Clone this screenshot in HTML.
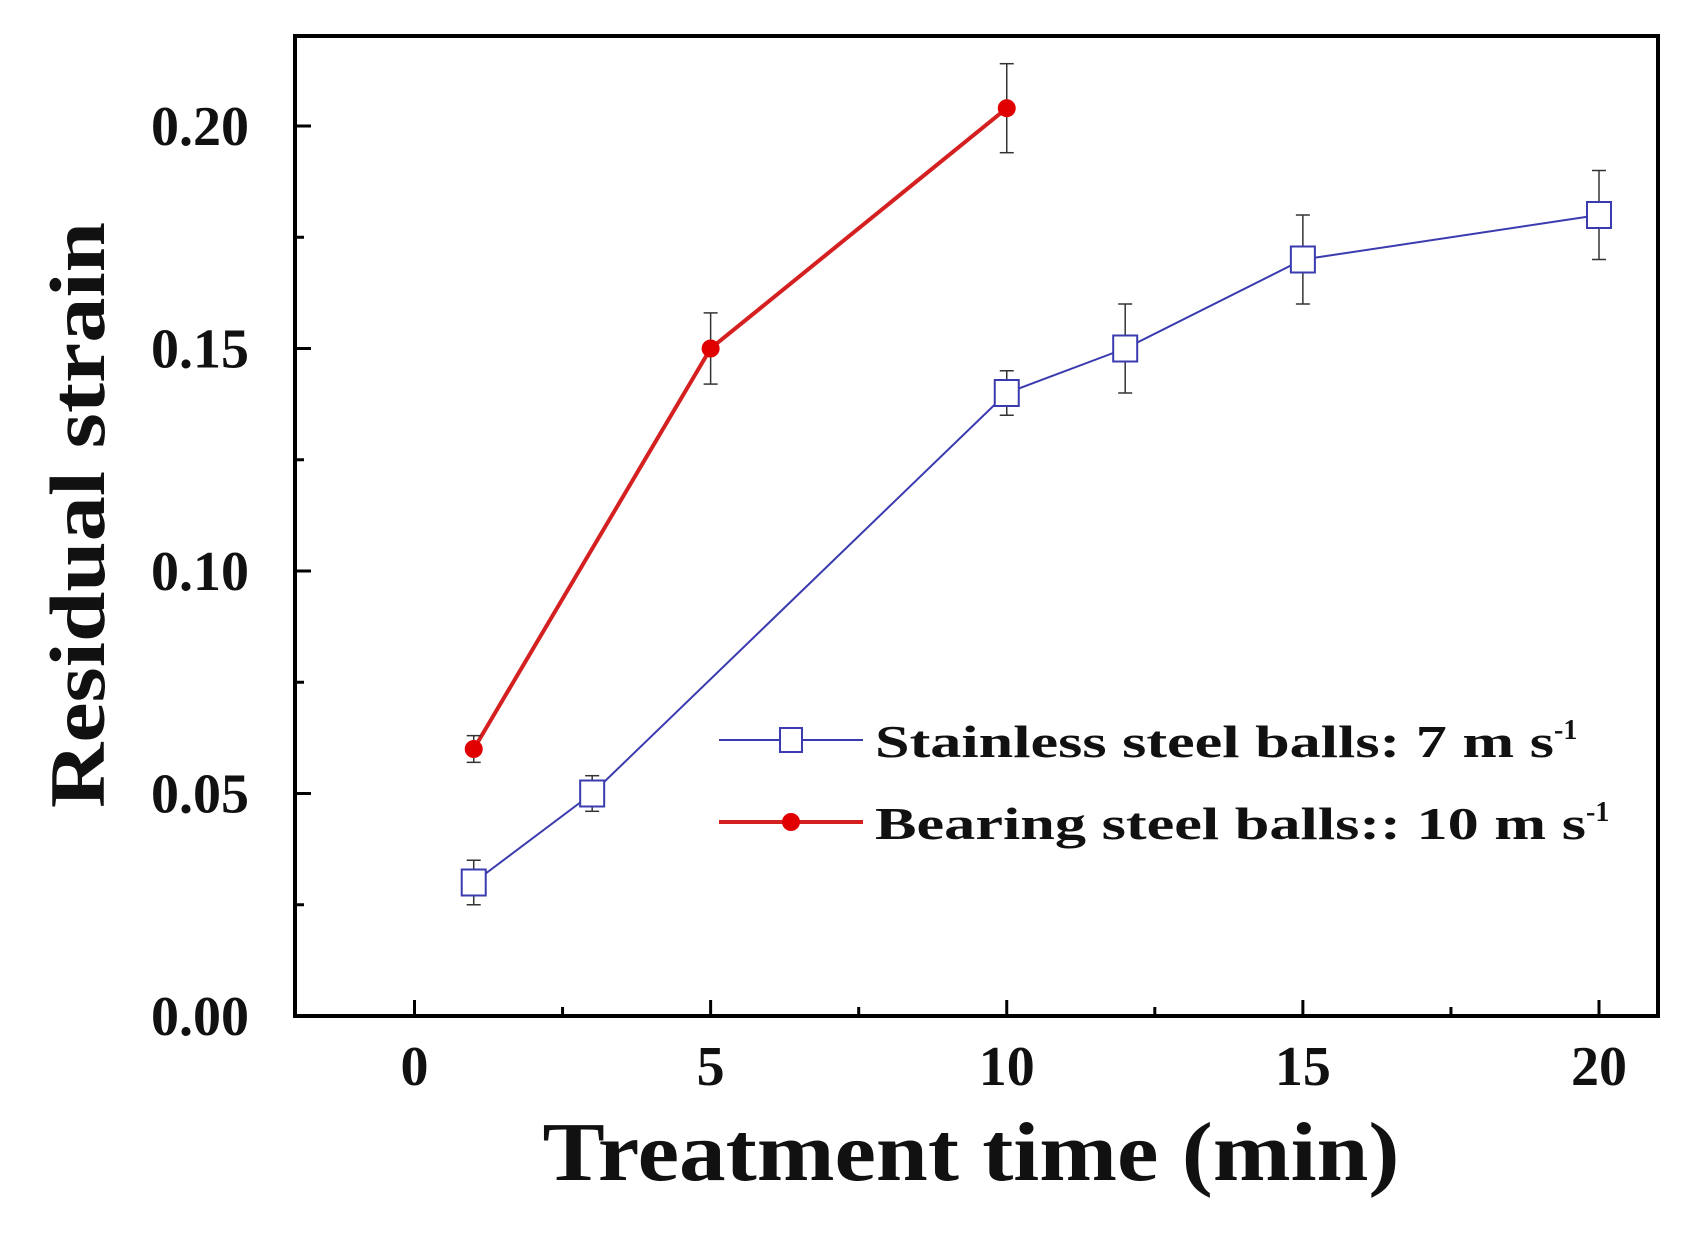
<!DOCTYPE html>
<html><head><meta charset="utf-8"><style>
body{margin:0;background:#fff}
svg text{font-family:"Liberation Serif",serif;font-weight:bold;fill:#111}
</style></head><body>
<svg id="chart" width="1699" height="1230" xmlns="http://www.w3.org/2000/svg">
<g id="axes"></g><g id="series"></g>
<g>
 <line x1="719" y1="740" x2="863" y2="740" stroke="#3b3bb0" stroke-width="2"/>
 <rect x="780" y="728" width="22" height="24" fill="#fff" stroke="#3b3bb0" stroke-width="2"/>
 <text x="875" y="757" font-size="46"><tspan textLength="679" lengthAdjust="spacingAndGlyphs">Stainless steel balls: 7 m s</tspan><tspan font-size="28" dy="-18">-1</tspan></text>
 <line x1="719" y1="822" x2="863" y2="822" stroke="#d42020" stroke-width="4"/>
 <circle cx="791" cy="822" r="9" fill="#e00000"/>
 <text x="875" y="839" font-size="46"><tspan textLength="711" lengthAdjust="spacingAndGlyphs">Bearing steel balls:: 10 m s</tspan><tspan font-size="28" dy="-18">-1</tspan></text>
</g>
<text transform="translate(104,515) rotate(-90)" text-anchor="middle" font-size="78" textLength="586" lengthAdjust="spacingAndGlyphs">Residual strain</text>
<text x="971" y="1180" text-anchor="middle" font-size="84" textLength="857" lengthAdjust="spacingAndGlyphs">Treatment time (min)</text>
</svg>
<script>
const blueX=[1,3,10,12,15,20];
const blueY=[0.03,0.05,0.14,0.15,0.17,0.18];
const blueErr=[0.005,0.004,0.005,0.01,0.01,0.01];
const redX=[1,5,10];
const redY=[0.06,0.15,0.204];
const redErr=[0.003,0.008,0.01];
const xTicks=[0,5,10,15,20];
const yTicks=[0,0.05,0.10,0.15,0.20];
const yLabels=["0.00","0.05","0.10","0.15","0.20"];
const L=295,R=1658,T=36,B=1016;
const sx=v=>414.5+v*(1599-414.5)/20;
const sy=v=>1016-v*(1016-126)/0.2;
const NS="http://www.w3.org/2000/svg";
function mk(p,tag,a){const e=document.createElementNS(NS,tag);for(const k in a)e.setAttribute(k,a[k]);p.appendChild(e);return e;}
const ax=document.getElementById('axes');
const box=mk(ax,'rect',{x:L,y:T,width:R-L,height:B-T,fill:'none',stroke:'#000','stroke-width':4});


xTicks.forEach(v=>{
 mk(ax,'line',{x1:sx(v),x2:sx(v),y1:B,y2:B-16,stroke:'#000','stroke-width':3});
 if(sx(v+2.5)<R) mk(ax,'line',{x1:sx(v+2.5),x2:sx(v+2.5),y1:B,y2:B-9,stroke:'#000','stroke-width':3});
 const t=mk(ax,'text',{x:sx(v),y:1085,'text-anchor':'middle','font-size':56});t.textContent=v;
 
 
});
yTicks.forEach((v,i)=>{
 mk(ax,'line',{x1:L,x2:L+16,y1:sy(v),y2:sy(v),stroke:'#000','stroke-width':3});
 if(sy(v+0.025)>T) mk(ax,'line',{x1:L,x2:L+9,y1:sy(v+0.025),y2:sy(v+0.025),stroke:'#000','stroke-width':3});
 const t=mk(ax,'text',{x:249,y:sy(v)+19,'text-anchor':'end','font-size':56});t.textContent=yLabels[i];
 
 
});
const sg=document.getElementById('series');
function draw(xs,ys,es,color,w,name,sq){
 const g=mk(sg,'g',{});
 
 
 mk(g,'polyline',{points:xs.map((x,i)=>sx(x)+','+sy(ys[i])).join(' '),fill:'none',stroke:color,'stroke-width':w});
 xs.forEach((x,i)=>{
  const cx=sx(x),y1=sy(ys[i]+es[i]),y2=sy(ys[i]-es[i]);
  mk(g,'line',{x1:cx,x2:cx,y1:y1,y2:y2,stroke:'#333','stroke-width':1.5});
  mk(g,'line',{x1:cx-7,x2:cx+7,y1:y1,y2:y1,stroke:'#333','stroke-width':1.5});
  mk(g,'line',{x1:cx-7,x2:cx+7,y1:y2,y2:y2,stroke:'#333','stroke-width':1.5});
  const m=sq?mk(g,'rect',{x:cx-12,y:sy(ys[i])-13,width:24,height:26,fill:'#fff',stroke:'#3b3bb0','stroke-width':2})
            :mk(g,'circle',{cx:cx,cy:sy(ys[i]),r:9,fill:'#e00000'});
  
  
 });
}
draw(blueX,blueY,blueErr,'#3b3bb0',2,'stainless-series',true);
draw(redX,redY,redErr,'#d42020',4,'bearing-series',false);
</script>
</body></html>
